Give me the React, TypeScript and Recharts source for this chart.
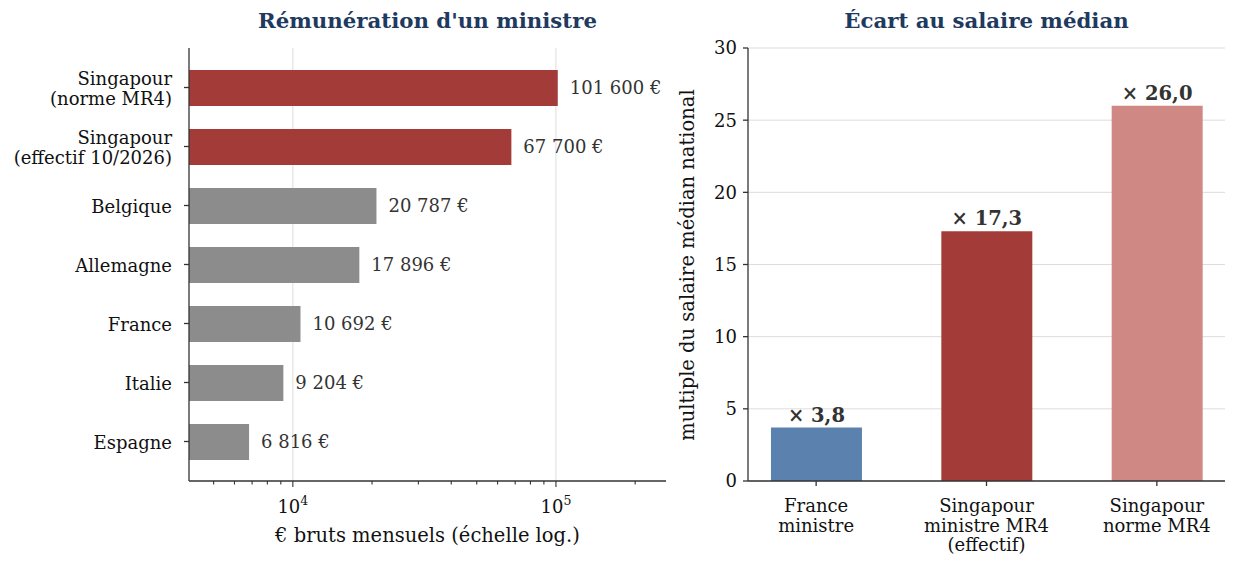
import React from 'react';
import {
  BarChart, Bar, XAxis, YAxis, CartesianGrid, Cell, LabelList
} from 'recharts';

const FONT = "'DejaVu Serif', serif";
const TITLE_COLOR = '#1f3a5f';
const AXIS_COLOR = '#333333';
const RED = '#a33c38';
const GRAY = '#8c8c8c';
const TICK_FS = 18;
const LABEL_FS = 19.5;

// left panel: monthly gross pay of a minister
const countries = [
  'Singapour\n(norme MR4)',
  'Singapour\n(effectif 10/2026)',
  'Belgique',
  'Allemagne',
  'France',
  'Italie',
  'Espagne',
];
const salaries = [101600, 67700, 20787, 17896, 10692, 9204, 6816];
const salaryColors = [RED, RED, GRAY, GRAY, GRAY, GRAY, GRAY];
const payDomain = [4030, 262000];
const logTicks = [5000, 6000, 7000, 8000, 9000, 10000, 20000, 30000, 40000, 50000, 60000, 70000, 80000, 90000, 100000, 200000];
const decades = [10000, 100000];
const majorTicks: Record<number, string> = { 10000: '4', 100000: '5' };

// right panel: multiple of the national median wage
const gapCategories = ['France\nministre', 'Singapour\nministre MR4\n(effectif)', 'Singapour\nnorme MR4'];
const gapValues = [3.7, 17.3, 26.0];
const gapLabels = ['× 3,8', '× 17,3', '× 26,0'];
const gapColors = ['#5b82ae', RED, '#cf8884'];
const gapTicks = [0, 5, 10, 15, 20, 25, 30];

const payData = countries.map((name, i) => ({ name, value: salaries[i] }));
const gapData = gapCategories.map((name, i) => ({ idx: i, name, value: gapValues[i], label: gapLabels[i] }));

const fmtEuro = (v: number) => v.toString().replace(/\B(?=(\d{3})+(?!\d))/g, ' ') + ' €';

const MultiLineYTick = (props: any) => {
  const { x, y, payload } = props;
  const lines = String(payload.value).split('\n');
  const lh = 19.5;
  return (
    <g>
      <line x1={x + 12} x2={x + 17} y1={y} y2={y} stroke={AXIS_COLOR} strokeWidth={1.3} />
      <text x={x} y={y} textAnchor="end" fontFamily={FONT} fontSize={TICK_FS} fill="#111">
        {lines.map((l, i) => (
          <tspan key={i} x={x} dy={i === 0 ? -((lines.length - 1) / 2) * lh + 7.5 : lh}>{l}</tspan>
        ))}
      </text>
    </g>
  );
};

const LogTick = (props: any) => {
  const { x, y, payload } = props;
  const exp = majorTicks[payload.value];
  const top = y - 8;
  return (
    <g>
      <line x1={x} x2={x} y1={top} y2={top + (exp ? 6 : 3.5)} stroke={AXIS_COLOR} strokeWidth={1.1} />
      {exp && (
        <text x={x} y={top + 32} textAnchor="middle" fontFamily={FONT} fontSize={TICK_FS} fill="#111">
          10<tspan fontSize={12.5} dy={-8}>{exp}</tspan>
        </text>
      )}
    </g>
  );
};

const GapXTick = (props: any) => {
  const { x, y, payload } = props;
  const lines = gapCategories[payload.value].split('\n');
  return (
    <g>
      <line x1={x} x2={x} y1={y - 8} y2={y - 3} stroke={AXIS_COLOR} strokeWidth={1.3} />
      <text x={x} y={y} textAnchor="middle" fontFamily={FONT} fontSize={TICK_FS} fill="#111">
        {lines.map((l, i) => (
          <tspan key={i} x={x} dy={i === 0 ? 23 : 19.5}>{l}</tspan>
        ))}
      </text>
    </g>
  );
};

// vertical grid only at the decades (behind the bars)
const decadeGrid = ({ xAxis, offset }: any) => {
  const s = xAxis && xAxis.scale;
  if (typeof s === 'function') return decades.map((v) => s(v));
  if (s && typeof s.map === 'function') return decades.map((v) => s.map(v));
  const lo = Math.log10(payDomain[0]);
  const hi = Math.log10(payDomain[1]);
  return decades.map((v) => offset.left + ((Math.log10(v) - lo) / (hi - lo)) * offset.width);
};

const titleStyle: React.CSSProperties = {
  position: 'absolute',
  top: 8,
  fontFamily: FONT,
  fontWeight: 'bold',
  fontSize: 21.3,
  color: TITLE_COLOR,
  textAlign: 'center',
  whiteSpace: 'nowrap',
};

export default function App() {
  return (
    <div style={{ position: 'absolute', left: 0, top: 0, width: 1237, height: 568, background: '#fff', overflow: 'hidden' }}>
      <div style={{ ...titleStyle, left: 189, width: 477 }}>Rémunération d'un ministre</div>
      <div style={{ ...titleStyle, left: 748, width: 477 }}>Écart au salaire médian</div>

      <div style={{ position: 'absolute', left: 0, top: 0 }}>
        <BarChart
          width={680}
          height={568}
          data={payData}
          layout="vertical"
          margin={{ top: 48, right: 14, bottom: 0, left: 9 }}
          barSize={36}
        >
          <CartesianGrid
            horizontal={false}
            stroke="#dddddd"
            verticalCoordinatesGenerator={decadeGrid}
          />
          <XAxis
            type="number"
            scale="log"
            domain={payDomain}
            allowDataOverflow
            ticks={logTicks}
            interval={0}
            tick={<LogTick />}
            tickLine={false}
            stroke={AXIS_COLOR}
            strokeWidth={1.3}
            height={87}
          />
          <YAxis
            type="category"
            dataKey="name"
            width={180}
            interval={0}
            tick={<MultiLineYTick />}
            tickLine={false}
            tickSize={5}
            tickMargin={12}
            padding={{ top: 10, bottom: 10 }}
            stroke={AXIS_COLOR}
            strokeWidth={1.3}
          />
          <Bar dataKey="value" isAnimationActive={false}>
            {payData.map((d, i) => (
              <Cell key={d.name} fill={salaryColors[i]} />
            ))}
            <LabelList
              dataKey="value"
              position="right"
              offset={12}
              formatter={(v: any) => fmtEuro(Number(v))}
              style={{ fontFamily: FONT, fontSize: TICK_FS, fill: '#333' }}
            />
          </Bar>
        </BarChart>
      </div>

      <div style={{ position: 'absolute', left: 670, top: 0 }}>
        <BarChart
          width={567}
          height={568}
          data={gapData}
          margin={{ top: 48, right: 12, bottom: 0, left: 8 }}
          barSize={91}
        >
          <CartesianGrid vertical={false} stroke="#dddddd" />
          <XAxis
            type="number"
            dataKey="idx"
            domain={[-0.4, 2.4]}
            ticks={[0, 1, 2]}
            interval={0}
            tick={<GapXTick />}
            tickLine={false}
            stroke={AXIS_COLOR}
            strokeWidth={1.3}
            height={87}
          />
          <YAxis
            type="number"
            domain={[0, 30]}
            ticks={gapTicks}
            interval={0}
            width={70}
            tickSize={5}
            tickMargin={6}
            stroke={AXIS_COLOR}
            strokeWidth={1.3}
            tick={{ fontFamily: FONT, fontSize: TICK_FS, fill: '#111' }}
          />
          <Bar dataKey="value" isAnimationActive={false}>
            {gapData.map((d, i) => (
              <Cell key={d.name} fill={gapColors[i]} />
            ))}
            <LabelList
              dataKey="label"
              position="top"
              offset={6}
              style={{ fontFamily: FONT, fontSize: LABEL_FS, fontWeight: 'bold', fill: '#333' }}
            />
          </Bar>
        </BarChart>
      </div>

      <svg style={{ position: 'absolute', left: 0, top: 0 }} width={1237} height={568} pointerEvents="none">
        <text x={427.5} y={542} textAnchor="middle" fontFamily={FONT} fontSize={LABEL_FS} fill="#111">
          € bruts mensuels (échelle log.)
        </text>
        <text
          transform="translate(694,265) rotate(-90)"
          textAnchor="middle"
          fontFamily={FONT}
          fontSize={LABEL_FS}
          fill="#111"
        >
          multiple du salaire médian national
        </text>
      </svg>
    </div>
  );
}
